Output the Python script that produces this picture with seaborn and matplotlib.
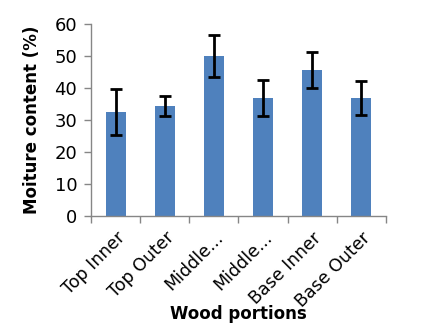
import matplotlib
matplotlib.use("Agg")
import matplotlib.pyplot as plt
import numpy as np
import pandas as pd
import seaborn as sns

# Moisture content per wood portion
portions = ["Top Inner", "Top Outer", "Middle Inner", "Middle Outer", "Base Inner", "Base Outer"]
tick_labels = ["Top Inner", "Top Outer", "Middle...", "Middle...", "Base Inner", "Base Outer"]
moisture = [32.5, 34.4, 50.0, 36.9, 45.6, 36.9]
std_err = [7.2, 3.1, 6.6, 5.6, 5.6, 5.3]

df = pd.DataFrame({"portion": portions, "moisture": moisture, "err": std_err})

sns.set_style("white")
plt.rcParams["font.family"] = ["DejaVu Sans"]
plt.rcParams["text.color"] = "black"
plt.rcParams["axes.labelcolor"] = "black"
plt.rcParams["xtick.labelcolor"] = "black"
plt.rcParams["ytick.labelcolor"] = "black"

fig = plt.figure(figsize=(4.36, 3.27), dpi=100)
ax = fig.add_axes([0.209, 0.339, 0.676, 0.588])

sns.barplot(data=df, x="portion", y="moisture", color="#4F81BD", width=0.41,
            saturation=1, errorbar=None, linewidth=0, ax=ax)
ax.errorbar(np.arange(len(portions)), df["moisture"], yerr=df["err"], fmt="none",
            ecolor="black", elinewidth=2, capsize=4, capthick=2)

ax.set_ylim(0, 60)
ax.set_yticks(range(0, 61, 10))
ax.set_xlim(-0.5, len(portions) - 0.5)

# tick marks between categories, like the spreadsheet original
ax.set_xticks(np.arange(len(portions)))
ax.set_xticklabels(tick_labels, rotation=45, ha="right", rotation_mode="anchor", fontsize=12.5)
ax.set_xticks(np.arange(-0.5, len(portions)), minor=True)
ax.tick_params(axis="x", which="major", length=0, pad=9, labelcolor="black")
ax.tick_params(axis="x", which="minor", length=5, color="#868686", width=1, direction="out")
ax.tick_params(axis="y", length=5, color="#868686", width=1, direction="out", labelsize=13, pad=5,
               labelcolor="black")
ax.xaxis.set_ticks_position("bottom")
ax.yaxis.set_ticks_position("left")

for side in ["top", "right"]:
    ax.spines[side].set_visible(False)
for side in ["left", "bottom"]:
    ax.spines[side].set_color("#868686")
    ax.spines[side].set_linewidth(1)

ax.set_ylabel("Moiture content (%)", fontsize=12, fontweight="bold", labelpad=10, color="black")
ax.set_xlabel("Wood portions", fontsize=12, fontweight="bold", labelpad=-4, color="black")

fig.savefig("out.png", dpi=100, facecolor="white")
